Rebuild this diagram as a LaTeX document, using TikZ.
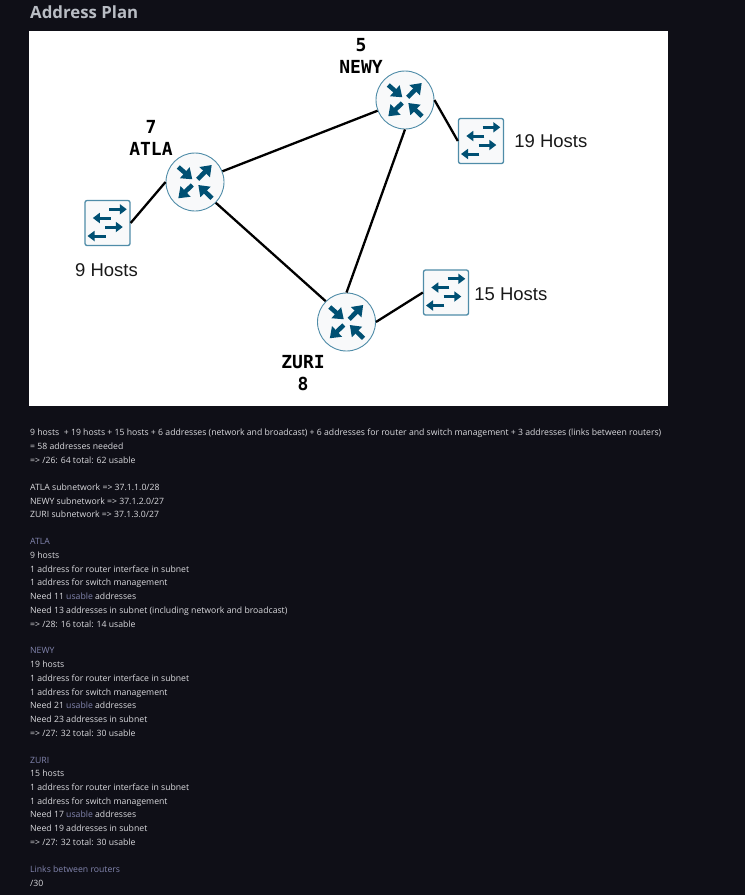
\documentclass[tikz,border=0pt]{standalone}
\usepackage{fontspec}
\setmainfont{Open Sans}
\newfontfamily\hostfont{Liberation Sans}
\newfontfamily\routerfont{DejaVu Sans Mono}
\usepackage{xcolor}
\usepackage{tikz}
\usetikzlibrary{arrows.meta,positioning}
\definecolor{pagebg}{HTML}{0F0F17}
\definecolor{bodytext}{HTML}{DADADE}
\definecolor{titletext}{HTML}{B9BDC4}
\definecolor{accent}{HTML}{8285AE}
\definecolor{icon}{HTML}{005073}
\definecolor{iconedge}{HTML}{4F8CA8}
\definecolor{iconfill}{HTML}{F8F9FA}
\newcommand{\acc}[1]{\textcolor{accent}{#1}}

\begin{document}
\begin{tikzpicture}[
    x=1pt, y=-1pt,
    node distance=16.2pt,
    router/.style={circle, draw=iconedge, fill=iconfill, line width=0.9pt, minimum size=58pt, inner sep=0pt,
        path picture={
            \begin{scope}[shift={(path picture bounding box.center)}]
                \foreach \tailx/\taily/\headx/\heady in {-16.7/-15/-2.7/-2.7, 2.7/-2.7/16.7/-17, -2.7/3/-16.7/16.3, 17/16.3/3.3/3}
                    \draw[routerarrow] (\tailx,\taily) -- (\headx,\heady);
            \end{scope}
        }},
    routerarrow/.style={-{Triangle[length=10pt,width=14pt]}, icon, line width=4.5pt},
    switchbox/.style={rectangle, draw=iconedge, fill=iconfill, line width=1.3pt, rounded corners=2pt, minimum size=45pt, inner sep=0pt,
        path picture={
            \begin{scope}[shift={(path picture bounding box.center)}]
                \foreach \tailx/\headx/\rowy in {1.7/19.3/-13.7, 3.3/-14.7/-5, -2.3/15.3/4, -1.7/-20/13}
                    \draw[switcharrow] (\tailx,\rowy) -- (\headx,\rowy);
            \end{scope}
        }},
    switcharrow/.style={-{Triangle[length=7pt,width=10pt]}, icon, line width=3pt},
    link/.style={black, line width=2.3pt},
    hostlabel/.style={font=\hostfont\fontsize{18.5}{22}\selectfont, text=black!90, inner sep=0pt},
    routerlabel/.style={font=\routerfont\bfseries\fontsize{18}{22}\selectfont, align=center, text=black, inner sep=0pt},
    notes/.style={font=\fontsize{8.68}{13.7}\selectfont, text=bodytext, align=left, inner sep=0pt,
        execute at begin node=\strut, execute at end node=\strut}
]
    \useasboundingbox (0,0) rectangle (745,895);
    \fill[pagebg] (0,0) rectangle (745,895);
    \fill[white] (29,31) rectangle (668,406);

    \node[anchor=west, inner sep=0pt, text=titletext, font=\bfseries\fontsize{16.8}{22}\selectfont] (title) at (30,12) {Address Plan};

    % routers and switches
    \node[router] (atla) at (195,182) {};
    \node[router] (newy) at (405,100) {};
    \node[router] (zuri) at (346.5,322) {};
    \node[switchbox] (sw1) at (107.5,223) {};
    \node[switchbox] (sw2) at (481,141) {};
    \node[switchbox] (sw3) at (446,292.5) {};

    \draw[link] (atla) -- (newy);
    \draw[link] (atla.south east) -- (zuri.north west);
    \draw[link] (newy.south) -- (zuri.north);
    \draw[link] (atla.west) -- (sw1.east);
    \draw[link] (newy.east) -- (sw2.west);
    \draw[link] (zuri.east) -- (sw3.west);

    \node[routerlabel] (atlalabel) at (151,138) {7\\ATLA};
    \node[routerlabel] (newylabel) at (361,56) {5\\NEWY};
    \node[routerlabel] (zurilabel) at (303,373) {ZURI\\8};

    \node[hostlabel, below=17pt of sw1, xshift=-1pt] (hosts1) {9 Hosts};
    \node[hostlabel, right=10pt of sw2, yshift=-0.5pt] (hosts2) {19 Hosts};
    \node[hostlabel, right=5pt of sw3, yshift=-1.5pt] (hosts3) {15 Hosts};

    % address plan
    \node[notes, anchor=north west] (plan) at (30,429) {9 hosts\ \ + 19 hosts + 15 hosts + 6 addresses (network and broadcast) + 6 addresses for router and switch management + 3 addresses (links between routers)\\
        = 58 addresses needed\\
        => /26: 64 total: 62 usable};
    \node[notes, below=of plan.south west, anchor=north west] (subnets) {ATLA subnetwork => 37.1.1.0/28\\
        NEWY subnetwork => 37.1.2.0/27\\
        ZURI subnetwork => 37.1.3.0/27};
    \node[notes, below=of subnets.south west, anchor=north west] (atlaplan) {\acc{ATLA}\\
        9 hosts\\
        1 address for router interface in subnet\\
        1 address for switch management\\
        Need 11 \acc{usable} addresses\\
        Need 13 addresses in subnet (including network and broadcast)\\
        => /28: 16 total: 14 usable};
    \node[notes, below=of atlaplan.south west, anchor=north west] (newyplan) {\acc{NEWY}\\
        19 hosts\\
        1 address for router interface in subnet\\
        1 address for switch management\\
        Need 21 \acc{usable} addresses\\
        Need 23 addresses in subnet\\
        => /27: 32 total: 30 usable};
    \node[notes, below=of newyplan.south west, anchor=north west] (zuriplan) {\acc{ZURI}\\
        15 hosts\\
        1 address for router interface in subnet\\
        1 address for switch management\\
        Need 17 \acc{usable} addresses\\
        Need 19 addresses in subnet\\
        => /27: 32 total: 30 usable};
    \node[notes, below=of zuriplan.south west, anchor=north west] (linksplan) {\acc{Links between routers}\\
        /30};
\end{tikzpicture}
\end{document}
